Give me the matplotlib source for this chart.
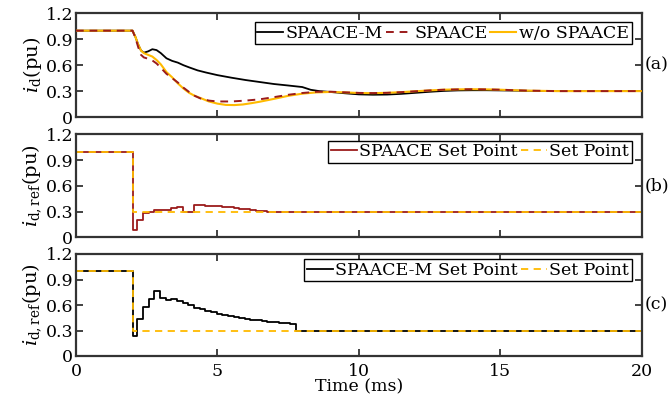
import matplotlib.pyplot as plt

plt.rcParams['font.family'] = ['DejaVu Serif']
plt.rcParams['mathtext.fontset'] = 'dejavuserif'

# ---- panel (a): measured d-axis current ----
t_m = [0, 2.0, 2.1, 2.2, 2.3, 2.4, 2.55, 2.7, 2.85, 3.0, 3.2, 3.4, 3.6, 3.8, 4.0, 4.3,
       4.6, 5.0, 5.5, 6.0, 6.5, 7.0, 7.5, 8.0, 8.3, 8.6, 9.0, 9.5, 10.0, 10.5, 11.0,
       11.5, 12.0, 12.5, 13.0, 13.5, 14.0, 14.5, 15.0, 16.0, 17.0, 20.0]
id_m = [1.0, 1.0, 0.93, 0.84, 0.77, 0.745, 0.76, 0.785, 0.775, 0.74, 0.68, 0.65, 0.63,
        0.60, 0.575, 0.54, 0.515, 0.485, 0.455, 0.428, 0.405, 0.382, 0.365, 0.347,
        0.315, 0.30, 0.29, 0.275, 0.262, 0.258, 0.26, 0.268, 0.28, 0.292, 0.302, 0.308,
        0.31, 0.31, 0.308, 0.303, 0.30, 0.30]

t_s = [0, 2.0, 2.1, 2.2, 2.3, 2.4, 2.55, 2.7, 2.85, 3.0, 3.2, 3.4, 3.6, 3.8, 4.0, 4.2,
       4.4, 4.7, 5.0, 5.5, 6.0, 6.5, 7.0, 7.5, 8.0, 8.5, 9.0, 9.5, 10.0, 10.5, 11.0,
       11.5, 12.0, 12.5, 13.0, 13.5, 14.0, 14.5, 15.0, 15.5, 16.0, 17.0, 20.0]
id_s = [1.0, 1.0, 0.92, 0.81, 0.72, 0.69, 0.675, 0.655, 0.62, 0.57, 0.50, 0.45, 0.40,
        0.34, 0.29, 0.245, 0.215, 0.19, 0.18, 0.18, 0.19, 0.205, 0.23, 0.257, 0.278,
        0.292, 0.293, 0.286, 0.279, 0.277, 0.28, 0.288, 0.298, 0.308, 0.316, 0.32,
        0.322, 0.32, 0.316, 0.31, 0.305, 0.30, 0.30]

t_w = [0, 2.0, 2.1, 2.2, 2.3, 2.4, 2.55, 2.7, 2.85, 3.0, 3.2, 3.4, 3.6, 3.8, 4.0, 4.2,
       4.4, 4.7, 5.0, 5.3, 5.6, 5.9, 6.2, 6.5, 7.0, 7.5, 8.0, 8.5, 9.0, 9.5, 10.0,
       10.5, 11.0, 11.5, 12.0, 12.5, 13.0, 13.5, 14.0, 14.5, 15.0, 15.5, 16.0, 17.0, 20.0]
id_w = [1.0, 1.0, 0.93, 0.84, 0.77, 0.74, 0.72, 0.70, 0.66, 0.61, 0.52, 0.46, 0.39,
        0.33, 0.28, 0.245, 0.22, 0.18, 0.155, 0.14, 0.138, 0.145, 0.16, 0.177, 0.21,
        0.245, 0.27, 0.285, 0.29, 0.285, 0.278, 0.276, 0.28, 0.288, 0.298, 0.308,
        0.316, 0.32, 0.322, 0.32, 0.316, 0.31, 0.305, 0.30, 0.30]

# ---- panels (b) and (c): set points (step signals) ----
t_step = [0, 2.0, 2.17, 2.37, 2.57, 2.77, 2.97, 3.17, 3.37, 3.57, 3.77, 3.97, 4.17,
          4.37, 4.57, 4.77, 4.97, 5.17, 5.37, 5.57, 5.77, 5.97, 6.17, 6.37, 6.57,
          6.77, 6.97, 7.17, 7.37, 7.57, 7.77, 20.0]
ref_spaace = [1.0, 0.085, 0.20, 0.285, 0.295, 0.315, 0.315, 0.32, 0.346, 0.357, 0.30,
              0.30, 0.38, 0.374, 0.37, 0.365, 0.36, 0.355, 0.35, 0.345, 0.335, 0.325,
              0.315, 0.31, 0.302, 0.30, 0.30, 0.30, 0.30, 0.30, 0.30, 0.30]
ref_spaace_m = [1.0, 0.235, 0.435, 0.58, 0.667, 0.765, 0.686, 0.655, 0.667, 0.647,
                0.62, 0.596, 0.568, 0.55, 0.532, 0.516, 0.50, 0.486, 0.472, 0.46,
                0.448, 0.437, 0.427, 0.418, 0.41, 0.402, 0.395, 0.389, 0.383, 0.377,
                0.30, 0.30]
t_set = [0, 2.0, 20.0]
ref_set = [1.0, 0.3, 0.3]

black = '#000000'
red = '#9B1B1B'
yellow = '#FFBA00'
dash = (0, (4, 3))
fs = 12.5

leg_kw = dict(loc='upper right', borderaxespad=0, handlelength=1.5, handletextpad=0.15,
              columnspacing=0.15, borderpad=0.15, fontsize=fs, fancybox=False,
              edgecolor='black', framealpha=1)

fig = plt.figure(figsize=(6.72, 4.0), dpi=100)
left, width = 0.113, 0.842
ax_a = fig.add_axes([left, 0.7075, width, 0.259])
ax_b = fig.add_axes([left, 0.407, width, 0.257])
ax_c = fig.add_axes([left, 0.11, width, 0.255])

ax_a.plot(t_m, id_m, color=black, lw=1.3, label='SPAACE-M', zorder=2)
ax_a.plot(t_w, id_w, color=yellow, lw=1.5, label='w/o SPAACE', zorder=3)
ax_a.plot(t_s, id_s, color=red, lw=1.4, ls=dash, label='SPAACE', zorder=4)
h, l = ax_a.get_legend_handles_labels()
order = [0, 2, 1]
ax_a.legend([h[i] for i in order], [l[i] for i in order], ncol=3,
            bbox_to_anchor=(0.982, 0.916), **leg_kw)

ax_b.step(t_step, ref_spaace, where='post', color=red, lw=1.3, label='SPAACE Set Point')
ax_b.step(t_set, ref_set, where='post', color=yellow, lw=1.3, ls=dash, label='Set Point')
ax_b.legend(ncol=2, bbox_to_anchor=(0.982, 0.938), **leg_kw)

ax_c.step(t_step, ref_spaace_m, where='post', color=black, lw=1.3, label='SPAACE-M Set Point')
ax_c.step(t_set, ref_set, where='post', color=yellow, lw=1.3, ls=dash, label='Set Point')
ax_c.legend(ncol=2, bbox_to_anchor=(0.982, 0.951), **leg_kw)

for ax, tag in zip([ax_a, ax_b, ax_c], ['(a)', '(b)', '(c)']):
    ax.set_xlim(0, 20)
    ax.set_ylim(0, 1.2)
    ax.set_xticks([0, 5, 10, 15, 20])
    ax.set_yticks([0, 0.3, 0.6, 0.9, 1.2])
    ax.set_yticklabels(['0', '0.3', '0.6', '0.9', '1.2'])
    ax.tick_params(direction='in', top=True, right=True, length=5, width=1.3,
                   labelsize=fs, pad=2, color='#333333')
    for s in ax.spines.values():
        s.set_linewidth(1.6)
        s.set_color('#333333')
    ax.text(1.005, 0.5, tag, transform=ax.transAxes, fontsize=fs, va='center', ha='left')
    ax.get_legend().get_frame().set_linewidth(1.0)

ax_c.tick_params(axis='x', pad=5)
ax_a.set_xticklabels([])
ax_b.set_xticklabels([])
ax_a.set_ylabel(r'$i_\mathrm{d}$(pu)', fontsize=14, labelpad=1)
ax_b.set_ylabel(r'$i_\mathrm{d,ref}$(pu)', fontsize=14, labelpad=1)
ax_c.set_ylabel(r'$i_\mathrm{d,ref}$(pu)', fontsize=14, labelpad=1)
ax_c.set_xlabel('Time (ms)', fontsize=fs, labelpad=-1)

fig.savefig('out.png', dpi=100)
